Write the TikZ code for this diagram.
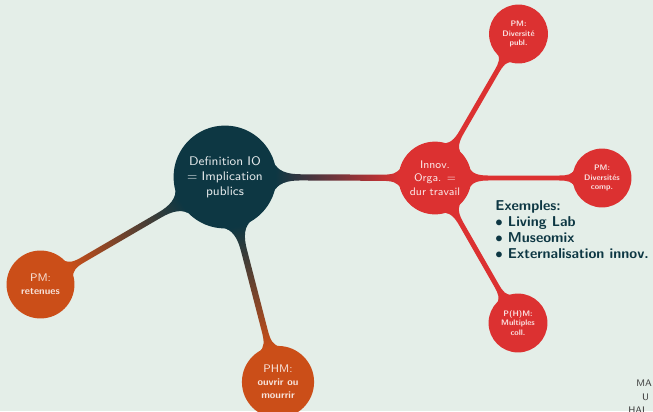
\documentclass[tikz,border=0pt]{standalone}
\usetikzlibrary{mindmap}
\definecolor{bgc}{HTML}{E4EEE8}
\definecolor{cteal}{HTML}{0D3743}
\definecolor{cred}{HTML}{DC3131}
\definecolor{corange}{HTML}{CB4E18}
\definecolor{cgrey}{HTML}{3A3A3A}
\tikzset{
  rootc/.style={concept, concept color=cteal, circle, minimum size=63.1pt, text width=52.5pt, inner sep=0pt,
    font=\sffamily\fontsize{7.81}{9.375}\selectfont, text=white!88!cteal},
  lvlone/.style={concept, circle, minimum size=43.75pt, text width=38.75pt, inner sep=0pt,
    font=\sffamily\fontsize{6.875}{8.31}\selectfont},
  lvltwo/.style={concept, concept color=cred, circle, minimum size=35.6pt, text width=31.25pt, inner sep=0pt,
    font=\sffamily\bfseries\fontsize{5}{6.125}\selectfont, text=white!85!cred},
  exlist/.style={anchor=north west, align=left, inner sep=0pt, text=cteal,
    font=\sffamily\bfseries\fontsize{8.94}{10}\selectfont},
  cuttext/.style={anchor=base west, inner sep=0pt, text=cgrey, font=\sffamily\fontsize{5.94}{6.9}\selectfont}
}
\newcommand{\smallbold}{\bfseries\fontsize{6.25}{7.81}\selectfont}
\begin{document}
\begin{tikzpicture}[x=0.625pt,y=0.625pt]
\fill[bgc] (0,0) rectangle (653,411);
\useasboundingbox (0,0) rectangle (653,411);

\begin{scope}[mindmap]
\node[rootc] (root) at (225,234) {Definition IO\\ = Implication\\ publics};
\node[lvlone, concept color=cred, text=white!88!cred] (innov) at (435,233) {Innov.\\ Orga. =\\ dur travail};
\node[lvlone, concept color=corange, text=white!85!corange, minimum size=41.25pt] (ret) at (40.5,126.5)
  {PM:\par\smallbold retenues};
\node[lvlone, concept color=corange, text=white!85!corange] (phm) at (278,29)
  {PHM:\par\smallbold ouvrir ou\\ mourrir};

\node[lvltwo] (publ) at (518.5,377) {PM:\\ Diversité\\ publ.};
\node[lvltwo] (comp) at (602,233) {PM:\\ Diversités\\ comp.};
\node[lvltwo] (coll) at (518,88) {P(H)M:\\ Multiples\\ coll.};

\path (root) to[circle connection bar switch color=from (cteal) to (cred)] (innov);
\path (root) to[circle connection bar switch color=from (cteal) to (corange)] (ret);
\path (root) to[circle connection bar switch color=from (cteal) to (corange)] (phm);
\path (innov) to[circle connection bar switch color=from (cred) to (cred)] (publ);
\path (innov) to[circle connection bar switch color=from (cred) to (cred)] (comp);
\path (innov) to[circle connection bar switch color=from (cred) to (cred)] (coll);
\end{scope}

\node[exlist] (ex) at (495,211) {Exemples:\\ $\bullet$ Living Lab\\ $\bullet$ Museomix\\ $\bullet$ Externalisation innov.};

\node[cuttext] (ma) at (636,25) {MA};
\node[cuttext] (u) at (641.7,11) {U};
\node[cuttext] (hal) at (628,-2.5) {HAL};
\end{tikzpicture}
\end{document}
